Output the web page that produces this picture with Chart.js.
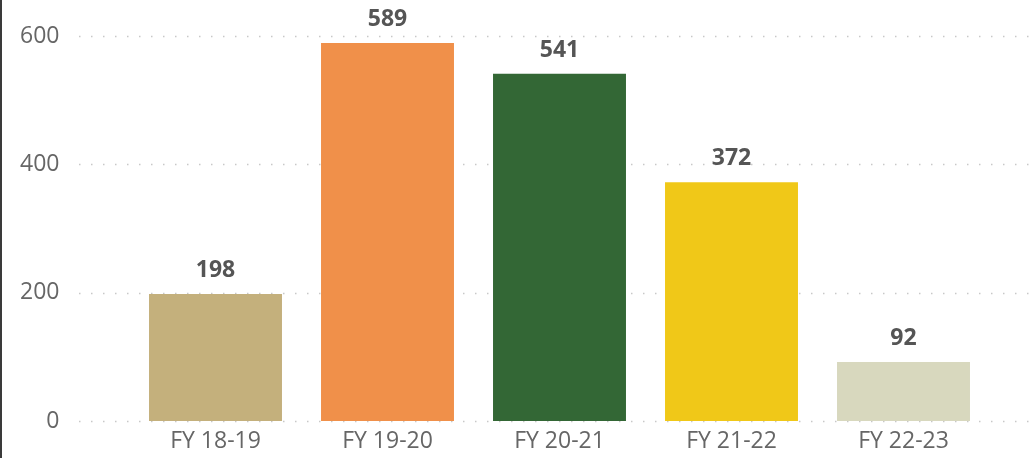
<!DOCTYPE html>
<html><head><meta charset="utf-8">
<script src="https://cdn.jsdelivr.net/npm/chart.js@4/dist/chart.umd.min.js"></script>
<style>html,body{margin:0;padding:0;background:#fff;}#wrap{width:1032px;height:458px;position:relative;}</style>
</head><body><div id="wrap"><canvas id="c" width="1032" height="458"></canvas></div>
<script>
const categories = ["FY 18-19","FY 19-20","FY 20-21","FY 21-22","FY 22-23"];
const values = [198, 589, 541, 372, 92];
const barColors = ["#C4B07C","#F0904A","#336735","#F0C818","#D8D8BE"];
const yTicks = [0, 200, 400, 600];

const FONT = "'Open Sans', 'Noto Sans', sans-serif";

const gridPlugin = {
  id: 'grid',
  beforeDatasetsDraw(chart) {
    const ctx = chart.ctx, y = chart.scales.y;
    ctx.save();
    ctx.strokeStyle = '#c8c8c8';
    ctx.lineWidth = 1.5;
    ctx.setLineDash([1.5, 10.5]);
    yTicks.forEach(v => {
      const py = Math.round(y.getPixelForValue(v)) + 0.5;
      ctx.beginPath(); ctx.moveTo(79, py); ctx.lineTo(1032, py); ctx.stroke();
    });
    ctx.restore();
  },
  afterDraw(chart) {
    const ctx = chart.ctx;
    ctx.save();
    const meta = chart.getDatasetMeta(0);
    ctx.font = "bold 23px " + FONT;
    ctx.fillStyle = '#555555';
    ctx.textAlign = 'center';
    ctx.textBaseline = 'alphabetic';
    meta.data.forEach((bar, i) => {
      ctx.fillText(String(values[i]), bar.x, bar.y - 17);
    });
    ctx.fillStyle = '#3a3a3a';
    ctx.fillRect(0, 0, 2, chart.height);
    ctx.restore();
  }
};

new Chart(document.getElementById('c'), {
  type: 'bar',
  data: { labels: categories, datasets: [{ data: values, backgroundColor: barColors, categoryPercentage: 1, barPercentage: 0.773 }] },
  options: {
    responsive: false, animation: false, devicePixelRatio: 1,
    layout: { padding: { top: 36, right: 42.5, bottom: 0, left: 0 } },
    plugins: { legend: { display: false }, tooltip: { enabled: false } },
    scales: {
      x: {
        afterFit(s) { s.height = 37; },
        grid: { display: false, drawTicks: false }, border: { display: false },
        ticks: { color: '#666666', font: { family: FONT, size: 23 }, padding: 7 }
      },
      y: {
        min: 0, max: 600,
        afterBuildTicks(s) { s.ticks = yTicks.map(v => ({ value: v })); },
        afterFit(s) { s.width = 129.5; s.paddingTop = 12; s.paddingBottom = 12; },
        grid: { display: false, drawTicks: false }, border: { display: false },
        ticks: { color: '#666666', font: { family: FONT, size: 23 }, padding: 70 }
      }
    }
  },
  plugins: [gridPlugin]
});
</script></body></html>
